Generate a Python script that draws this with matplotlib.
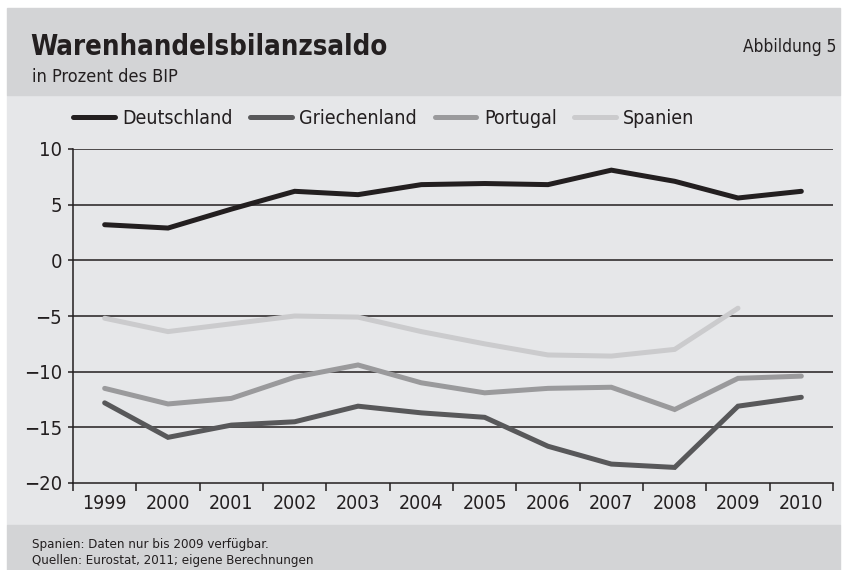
import numpy as np
import matplotlib.pyplot as plt
from matplotlib.patches import Rectangle
from matplotlib.ticker import FixedLocator, NullFormatter

plt.rcParams['font.family'] = ['DejaVu Sans']
plt.rcParams['font.stretch'] = 'condensed'

years = ['1999', '2000', '2001', '2002', '2003', '2004',
         '2005', '2006', '2007', '2008', '2009', '2010']
deutschland = [3.2, 2.9, 4.6, 6.2, 5.9, 6.8, 6.9, 6.8, 8.1, 7.1, 5.6, 6.2]
griechenland = [-12.8, -15.9, -14.8, -14.5, -13.1, -13.7, -14.1, -16.7, -18.3, -18.6, -13.1, -12.3]
portugal = [-11.5, -12.9, -12.4, -10.5, -9.4, -11.0, -11.9, -11.5, -11.4, -13.4, -10.6, -10.4]
spanien = [-5.2, -6.4, -5.7, -5.0, -5.1, -6.4, -7.5, -8.5, -8.6, -8.0, -4.3, np.nan]

series = [('Deutschland', deutschland, '#231f20'),
          ('Griechenland', griechenland, '#58585a'),
          ('Portugal', portugal, '#9a9a9c'),
          ('Spanien', spanien, '#cbcbcd')]

W, H = 847, 570
fig = plt.figure(figsize=(W / 100, H / 100), dpi=100)
fig.patch.set_facecolor('white')

def fx(px):
    return px / W

def fy(py):
    return 1 - py / H

# background bands
fig.patches.append(Rectangle((fx(7), fy(525)), fx(833), (430) / H,
                             transform=fig.transFigure, color='#e6e7e9', zorder=-2))
fig.patches.append(Rectangle((fx(7), fy(95)), fx(833), (87) / H,
                             transform=fig.transFigure, color='#d3d4d6', zorder=-2))
fig.patches.append(Rectangle((fx(7), 0), fx(833), (570 - 525) / H,
                             transform=fig.transFigure, color='#d3d4d6', zorder=-2))

fig.text(fx(30), fy(55), 'Warenhandelsbilanzsaldo', fontsize=19.8, fontweight='bold',
         color='#231f20', va='baseline')
fig.text(fx(32), fy(82), 'in Prozent des BIP', fontsize=13, color='#231f20', va='baseline')
fig.text(fx(836), fy(52), 'Abbildung 5', fontsize=12.4, color='#231f20', va='baseline', ha='right')
fig.text(fx(32), fy(548), 'Spanien: Daten nur bis 2009 verfügbar.', fontsize=9.5,
         color='#231f20', va='baseline')
fig.text(fx(32), fy(564), 'Quellen: Eurostat, 2011; eigene Berechnungen', fontsize=9.5,
         color='#231f20', va='baseline')

ax = fig.add_axes([fx(73), fy(483), fx(833 - 73), (483 - 149) / H])
ax.set_facecolor('none')
ax.set_zorder(2)

x = np.arange(len(years))
for name, vals, col in series:
    ax.plot(x, vals, color=col, lw=3.6, label=name, solid_capstyle='round',
            solid_joinstyle='miter', zorder=3)

ax.set_xlim(-0.5, len(years) - 0.5)
ax.set_ylim(-20, 10)
ax.set_yticks([-20, -15, -10, -5, 0, 5, 10])
ax.set_yticklabels(['\u221220', '\u221215', '\u221210', '\u22125', '0', '5', '10'])
for yv in [-15, -10, -5, 0, 5, 10]:
    ax.axhline(yv, color='#231f20', lw=1.1, zorder=1)

ax.set_xticks(x)
ax.set_xticklabels(years)
ax.xaxis.set_minor_locator(FixedLocator(np.arange(-0.5, len(years), 1.0)))
ax.xaxis.set_minor_formatter(NullFormatter())
ax.tick_params(axis='x', which='major', length=0, labelsize=14, pad=8, colors='#231f20')
ax.tick_params(axis='x', which='minor', length=5.8, width=1.1, direction='out', color='#231f20')
ax.tick_params(axis='y', length=3.8, width=1.1, direction='out', labelsize=14.5, pad=4,
               colors='#231f20')

for s in ['top', 'right']:
    ax.spines[s].set_visible(False)
for s in ['left', 'bottom']:
    ax.spines[s].set_color('#231f20')
    ax.spines[s].set_linewidth(1.1)

leg = ax.legend(loc='lower left', bbox_to_anchor=(0.0, 1.063), ncol=4, frameon=False,
                fontsize=14, handlelength=2.15, handletextpad=0.38, columnspacing=0.9,
                borderaxespad=0, borderpad=0)
for t in leg.get_texts():
    t.set_color('#231f20')

fig.savefig('out.png', dpi=100)
